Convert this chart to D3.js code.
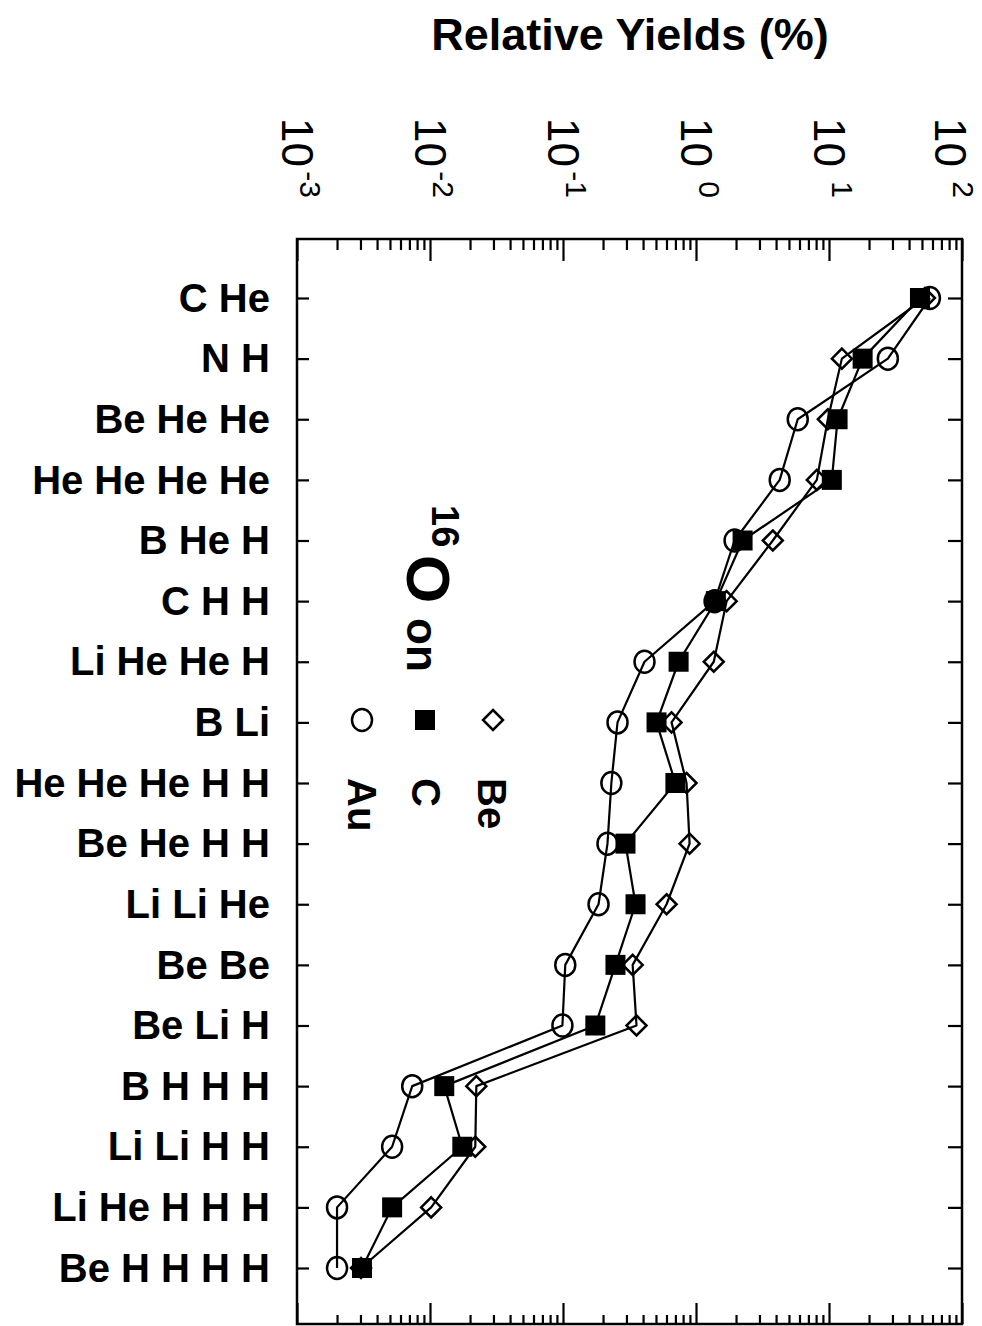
<!DOCTYPE html>
<html>
<head>
<meta charset="utf-8">
<script src="https://cdn.jsdelivr.net/npm/d3@7"></script>
<style>
  html, body { margin: 0; padding: 0; background: #fff; }
  svg { display: block; }
  text { font-family: "Liberation Sans", Arial, Helvetica, sans-serif; fill: #000; }
</style>
</head>
<body>
<script>
// Fragment channels, top to bottom
const categories = [
  "C He", "N H", "Be He He", "He He He He", "B He H", "C H H", "Li He He H",
  "B Li", "He He He H H", "Be He H H", "Li Li He", "Be Be", "Be Li H",
  "B H H H", "Li Li H H", "Li He H H H", "Be H H H H"
];

// Relative yields (%) for 16O on each target
const beYields = [52.6, 12.5, 9.8, 8.1, 3.78, 1.70, 1.36, 0.655, 0.849, 0.895, 0.601, 0.334, 0.357, 0.0223, 0.0219, 0.0102, 0.00303];
const cYields  = [48.3, 17.9, 11.6, 10.5, 2.24, 1.41, 0.74, 0.505, 0.70, 0.295, 0.351, 0.248, 0.175, 0.0128, 0.0175, 0.00519, 0.00308];
const auYields = [57.4, 27.7, 5.82, 4.26, 1.95, 1.38, 0.41, 0.257, 0.231, 0.216, 0.185, 0.104, 0.099, 0.00735, 0.00519, 0.0020, 0.0020];

// Decade exponents labelled along the yield axis
const tickExponents = [-3, -2, -1, 0, 1, 2];

const W = 982, H = 1326;
const frame = { left: 297, right: 962, top: 239, bottom: 1324 };

const svg = d3.select("body").append("svg")
  .attr("width", W).attr("height", H)
  .attr("viewBox", `0 0 ${W} ${H}`);

svg.append("rect").attr("width", W).attr("height", H).attr("fill", "#fff");

const x = d3.scaleLog().domain([1e-3, 1e2]).range([frame.left, frame.right]);
const y = d3.scalePoint().domain(categories).range([298, 1268]);

// Title
svg.append("text")
  .attr("x", 630).attr("y", 50)
  .attr("text-anchor", "middle")
  .attr("font-size", 45).attr("font-weight", "bold")
  .text("Relative Yields (%)");

// Log ticks: majors at decades, minors at 2..9
const majorTicks = tickExponents.map(e => Math.pow(10, e));
const minorTicks = [];
tickExponents.slice(0, -1).forEach(e => {
  for (let m = 2; m <= 9; m++) minorTicks.push(m * Math.pow(10, e));
});

function styleAxis(g) {
  g.select(".domain").remove();
  g.selectAll(".tick line").attr("stroke", "#000").attr("stroke-width", 2.2);
  g.selectAll(".tick text").remove();
}

// top edge, ticks pointing down into the plot
svg.append("g").attr("transform", `translate(0,${frame.top})`)
  .call(d3.axisBottom(x).tickValues(majorTicks).tickSize(22)).call(styleAxis);
svg.append("g").attr("transform", `translate(0,${frame.top})`)
  .call(d3.axisBottom(x).tickValues(minorTicks).tickSize(11)).call(styleAxis);

// bottom edge, ticks pointing up into the plot
svg.append("g").attr("transform", `translate(0,${frame.bottom})`)
  .call(d3.axisTop(x).tickValues(majorTicks).tickSize(21)).call(styleAxis);
svg.append("g").attr("transform", `translate(0,${frame.bottom})`)
  .call(d3.axisTop(x).tickValues(minorTicks).tickSize(9)).call(styleAxis);

// right edge category ticks
svg.append("g").attr("transform", `translate(${frame.right},0)`)
  .call(d3.axisLeft(y).tickSize(14)).call(styleAxis);

// left edge: inward ticks plus the channel names
const leftAxis = svg.append("g").attr("transform", `translate(${frame.left},0)`)
  .call(d3.axisLeft(y).tickSize(-12).tickPadding(27));
leftAxis.select(".domain").remove();
leftAxis.selectAll(".tick line").attr("stroke", "#000").attr("stroke-width", 2.2);
leftAxis.selectAll(".tick text")
  .attr("font-family", "'Liberation Sans', Arial, Helvetica, sans-serif")
  .attr("font-size", 40).attr("font-weight", "bold")
  .attr("fill", "#000")
  .attr("dy", "0.33em");

// frame
svg.append("rect")
  .attr("x", frame.left).attr("y", frame.top)
  .attr("width", frame.right - frame.left)
  .attr("height", frame.bottom - frame.top)
  .attr("fill", "none").attr("stroke", "#000").attr("stroke-width", 2.5);

// decade labels, turned a quarter clockwise; the last one is nudged in
// so its exponent stays on the page
const tickLabel = svg.append("g").selectAll("g")
  .data(tickExponents)
  .join("g")
  .attr("transform", e => `translate(${Math.min(x(Math.pow(10, e)), W - 32)},118) rotate(90)`);
tickLabel.append("text")
  .attr("x", 0).attr("y", 15)
  .attr("font-size", 44)
  .text("10");
tickLabel.append("text")
  .attr("x", 80).attr("y", -3)
  .attr("text-anchor", "end")
  .attr("font-size", 30)
  .text(e => String(e));

// series
const series = [
  { name: "Au", values: auYields, shape: "circle" },
  { name: "Be", values: beYields, shape: "diamond" },
  { name: "C",  values: cYields,  shape: "square" }
];

const line = d3.line()
  .x(d => x(d.v))
  .y(d => y(d.cat));

const plot = svg.append("g");
series.forEach(s => {
  plot.append("path")
    .datum(s.values.map((v, i) => ({ v, cat: categories[i] })))
    .attr("d", line)
    .attr("fill", "none")
    .attr("stroke", "#000")
    .attr("stroke-width", 2.2)
    .attr("stroke-linejoin", "round");
});

function drawMarker(g, shape, cx, cy) {
  if (shape === "circle") {
    g.append("ellipse").attr("cx", cx).attr("cy", cy).attr("rx", 10).attr("ry", 11)
      .attr("fill", "none").attr("stroke", "#000").attr("stroke-width", 2.5);
  } else if (shape === "square") {
    g.append("rect").attr("x", cx - 10).attr("y", cy - 10)
      .attr("width", 20).attr("height", 20).attr("fill", "#000");
  } else {
    const r = 10;
    g.append("path")
      .attr("d", `M${cx},${cy - r}L${cx + r},${cy}L${cx},${cy + r}L${cx - r},${cy}Z`)
      .attr("fill", "none").attr("stroke", "#000").attr("stroke-width", 2.5)
      .attr("stroke-linejoin", "miter");
  }
}

series.forEach(s => {
  const g = plot.append("g");
  s.values.forEach((v, i) => drawMarker(g, s.shape, x(v), y(categories[i])));
});

// legend, turned a quarter clockwise
const legend = svg.append("g");
legend.append("text")
  .attr("transform", "translate(432,505) rotate(90)")
  .attr("font-size", 38).attr("font-weight", "bold")
  .text("16");
legend.append("text")
  .attr("transform", "translate(407,555) rotate(90)")
  .attr("font-size", 62).attr("font-weight", "bold")
  .text("O");
legend.append("text")
  .attr("transform", "translate(407,618) rotate(90)")
  .attr("font-size", 44).attr("font-weight", "bold")
  .text("on");

const legendItems = [
  { name: "Be", shape: "diamond", cx: 493, base: 478 },
  { name: "C",  shape: "square",  cx: 425, base: 412 },
  { name: "Au", shape: "circle",  cx: 362, base: 348 }
];
legendItems.forEach(it => {
  drawMarker(legend, it.shape, it.cx, 720);
  legend.append("text")
    .attr("transform", `translate(${it.base},778) rotate(90)`)
    .attr("font-size", 40).attr("font-weight", "bold")
    .text(it.name);
});
</script>
</body>
</html>
